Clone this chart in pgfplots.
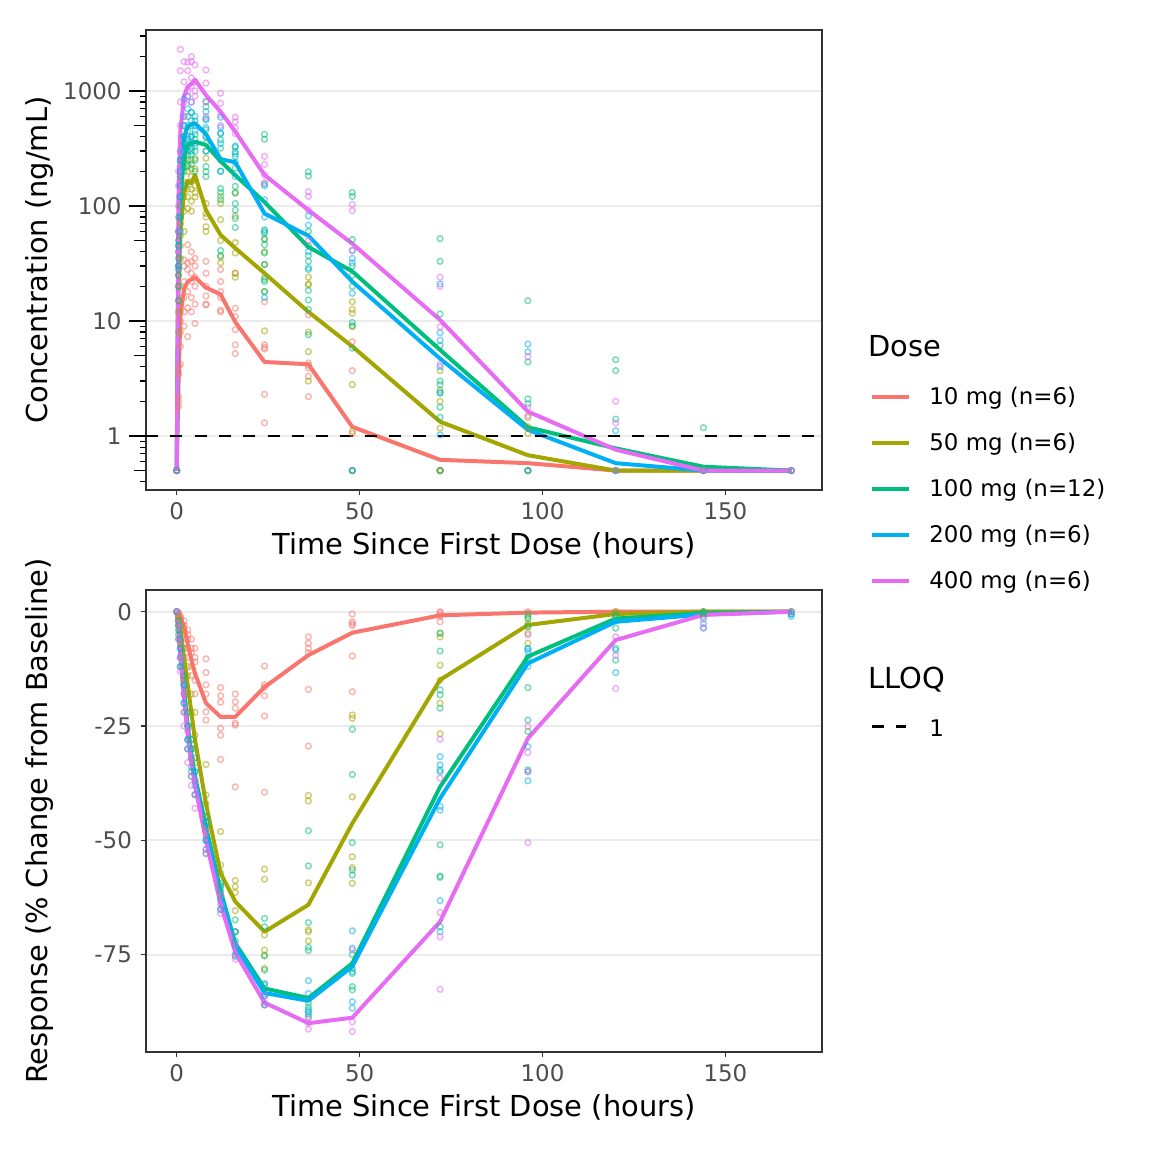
\documentclass[border=0pt]{standalone}
\usepackage{fontspec}
\setmainfont{DejaVu Sans}
\usepackage{pgfplots}
\pgfplotsset{compat=1.18}
\definecolor{cA}{HTML}{F8766D}
\definecolor{cB}{HTML}{A3A500}
\definecolor{cC}{HTML}{00BF7D}
\definecolor{cD}{HTML}{00B0F6}
\definecolor{cE}{HTML}{E76BF3}
\definecolor{gridc}{HTML}{EBEBEB}
\definecolor{txtgrey}{HTML}{4D4D4D}
\definecolor{bord}{HTML}{333333}
\pgfplotsset{
  base/.style={scale only axis, anchor=south west, xmin=-8.4, xmax=176.4,
    axis line style={draw=bord, line width=0.7pt},
    tick align=outside, tick pos=left,
    xtick={0,50,100,150}, xticklabels={0,50,100,150},
    tick label style={font=\fontsize{11.5}{13.8}\selectfont, text=txtgrey},
    major tick length=2.75pt, tick style={draw=bord, line width=0.6pt},
    ymajorgrids, major grid style={draw=gridc, line width=1pt},
    xlabel={Time Since First Dose (hours)},
    label style={font=\fontsize{14.5}{17.4}\selectfont, anchor=center}},
  pt/.style={only marks, mark=o, mark size=1.45pt, mark options={line width=0.7pt, draw opacity=0.55}},
  ln/.style={no marks, line width=2pt, line join=round},
}
\begin{document}
\begin{tikzpicture}
\begin{scope}[x=0.50188pt,y=0.50188pt]
\fill[white] (0,0) rectangle (1152,1152);
\path[use as bounding box] (0,0) rectangle (1152,1152);
\end{scope}

% ---------------- top panel ----------------
\begin{axis}[base, at={(73.27pt,332.245pt)}, width=339.27pt, height=230.86pt,
  ymode=log, ymin=0.339, ymax=3390, yminorticks=false,
  ytick={1,10,100,1000}, yticklabels={1,10,100,1000},
  yticklabel style={xshift=-6pt},
  ylabel={Concentration (ng/mL)},
  ylabel style={at={(axis description cs:-0.157,0.5)}},
  xlabel style={at={(axis description cs:0.5,-0.1196)}}]
\addplot[pt, cA] table[row sep=\\]{
0 0.5\\0 0.5\\0 0.5\\0.5 1.8\\0.5 2.0\\0.5 3.6\\0.5 4.0\\0.5 3.4\\0.5 2.2\\
1 10\\1 8\\1 4.2\\1 20\\1 12\\1 6\\2 22\\2 34\\2 12\\2 9\\2 16\\2 30\\
3 46\\3 28\\3 13\\3 7.3\\3 18\\3 32\\4 40\\4 22\\4 16\\4 12\\4 26\\4 33\\
5 35\\5 24\\5 14\\5 9.5\\5 30\\5 20\\8 33\\8 26\\8 16.5\\8 13.8\\8 14\\8 20\\
12 22\\12 18\\12 12.4\\12 28\\12 16\\12 12\\16 26\\16 12.9\\16 10.9\\16 8.4\\16 6.2\\16 5.2\\
24 14.7\\24 6.2\\24 5.7\\24 2.3\\24 1.3\\24 5.9\\36 11.3\\36 3.9\\36 3.3\\36 2.2\\36 4.1\\36 4.3\\
48 6.6\\48 3.7\\48 1.05\\48 0.5\\48 0.5\\72 0.5\\72 0.5\\96 0.5\\120 0.5\\144 0.5\\168 0.5\\
};
\addplot[pt, cB] table[row sep=\\]{
0 0.5\\0 0.5\\0.5 8\\0.5 15\\0.5 25\\0.5 30\\0.5 12\\0.5 20\\
1 35\\1 55\\1 80\\1 100\\1 45\\1 70\\2 90\\2 120\\2 160\\2 250\\2 140\\2 60\\
3 120\\3 200\\3 230\\3 160\\3 95\\3 140\\4 110\\4 180\\4 250\\4 140\\4 210\\4 90\\
5 130\\5 260\\5 210\\5 170\\5 150\\5 120\\8 260\\8 105\\8 86\\8 66\\8 80\\8 60\\
12 121\\12 105\\12 76\\12 36\\12 32\\12 50\\16 129\\16 82\\16 48\\16 39\\16 26\\16 24\\
24 51\\24 31\\24 18\\24 8.2\\24 24\\24 40\\36 24\\36 21\\36 20.6\\36 5.4\\36 3.0\\36 8\\
48 14.7\\48 12.6\\48 11.7\\48 8.9\\48 2.8\\48 1.1\\72 3.7\\72 2.5\\72 2.0\\72 1.17\\72 0.5\\72 0.5\\
96 1.45\\96 1.2\\96 1.05\\96 0.5\\120 0.5\\144 0.5\\168 0.5\\
};
\addplot[pt, cC] table[row sep=\\]{
0 0.5\\0 0.5\\0.5 20\\0.5 30\\0.5 40\\0.5 45\\0.5 60\\0.5 25\\0.5 35\\0.5 15\\0.5 50\\0.5 28\\
1 80\\1 120\\1 200\\1 150\\1 60\\1 250\\1 100\\1 180\\2 200\\2 300\\2 400\\2 250\\2 150\\2 350\\2 500\\2 220\\
3 250\\3 380\\3 450\\3 300\\3 220\\3 600\\3 330\\3 280\\4 280\\4 400\\4 500\\4 350\\4 230\\4 650\\4 320\\
5 300\\5 420\\5 380\\5 250\\5 550\\5 200\\5 330\\8 810\\8 730\\8 575\\8 460\\8 220\\8 198\\8 180\\8 300\\8 400\\8 350\\
12 425\\12 375\\12 318\\12 142\\12 131\\12 113\\12 41\\12 37\\12 250\\12 200\\
16 324\\16 296\\16 269\\16 213\\16 148\\16 131\\16 105\\16 92\\16 78\\16 65\\
24 420\\24 380\\24 155\\24 62\\24 58\\24 52\\24 46\\24 39\\24 31\\24 23\\24 22\\24 18\\
36 198\\36 182\\36 37\\36 33\\36 28\\36 18.4\\36 15.2\\36 12.6\\36 7.6\\36 45\\36 60\\
48 131\\48 121\\48 51\\48 20\\48 9.7\\48 9.1\\48 5.8\\48 30\\48 25\\48 0.5\\
72 52\\72 33\\72 11.5\\72 6.1\\72 3.0\\72 2.8\\72 2.35\\72 1.78\\72 1.45\\72 0.5\\
96 15\\96 4.4\\96 2.1\\96 1.9\\96 0.5\\120 4.6\\120 3.7\\120 1.4\\120 0.5\\144 1.18\\144 0.5\\168 0.5\\
};
\addplot[pt, cD] table[row sep=\\]{
0 0.5\\0.5 30\\0.5 45\\0.5 60\\0.5 80\\1 150\\1 250\\1 300\\1 120\\1 200\\
2 400\\2 600\\2 850\\2 300\\2 500\\3 500\\3 700\\3 900\\3 400\\3 350\\
4 550\\4 650\\4 400\\4 300\\4 800\\5 600\\5 450\\5 350\\5 500\\
8 660\\8 560\\8 480\\8 400\\8 300\\12 590\\12 480\\12 430\\12 350\\12 200\\
16 332\\16 284\\16 240\\16 180\\24 113\\24 16\\24 80\\24 150\\24 60\\
36 82\\36 68\\36 29\\36 40\\48 41\\48 35\\48 32\\48 17.4\\48 0.5\\
72 21\\72 7.9\\72 6.8\\72 2.4\\72 1.02\\72 4\\96 6.3\\96 5.4\\96 0.5\\120 1.11\\120 0.5\\144 0.5\\168 0.5\\
};
\addplot[pt, cE] table[row sep=\\]{
0 0.5\\0.5 60\\0.5 100\\0.5 150\\0.5 200\\0.5 40\\1 300\\1 500\\1 800\\1 1500\\1 2300\\
2 800\\2 1200\\2 1800\\2 600\\3 1000\\3 1500\\3 1780\\3 900\\
4 1100\\4 1990\\4 1800\\4 800\\4 1300\\5 1200\\5 1680\\5 1000\\5 900\\
8 1520\\8 1170\\8 800\\8 600\\12 955\\12 780\\12 620\\12 500\\16 590\\16 540\\16 475\\16 425\\
24 270\\24 230\\24 186\\24 160\\36 133\\36 121\\36 92\\36 50\\48 103\\48 91\\48 41\\
72 24\\72 8.9\\72 4.2\\72 20\\96 4.9\\96 1.78\\96 1.5\\120 2.0\\120 1.3\\120 0.5\\144 0.5\\168 0.5\\
};
\addplot[ln, cA] table[row sep=\\]{
0 0.5\\0.5 3\\1 11\\2 19\\3 22\\4 23\\5 24\\8 19.5\\12 17\\16 9.8\\24 4.4\\36 4.2\\48 1.2\\72 0.62\\96 0.58\\120 0.5\\144 0.5\\168 0.5\\
};
\addplot[ln, cB] table[row sep=\\]{
0 0.5\\0.5 20\\1 60\\2 130\\3 165\\4 158\\5 186\\8 92\\12 56\\16 43\\24 26\\36 12\\48 6.0\\72 1.33\\96 0.68\\120 0.5\\144 0.5\\168 0.5\\
};
\addplot[ln, cC] table[row sep=\\]{
0 0.5\\0.5 40\\1 120\\2 260\\3 339\\4 350\\5 362\\8 339\\12 245\\16 185\\24 108\\36 44\\48 27\\72 5.6\\96 1.19\\120 0.78\\144 0.54\\168 0.5\\
};
\addplot[ln, cD] table[row sep=\\]{
0 0.5\\0.5 60\\1 180\\2 400\\3 490\\4 510\\5 525\\8 420\\12 255\\16 240\\24 86\\36 55\\48 22\\72 4.7\\96 1.13\\120 0.58\\144 0.5\\168 0.5\\
};
\addplot[ln, cE] table[row sep=\\]{
0 0.5\\0.5 150\\1 450\\2 900\\3 1090\\4 1150\\5 1250\\8 920\\12 660\\16 443\\24 186\\36 92\\48 47\\72 10.2\\96 1.63\\120 0.76\\144 0.5\\168 0.5\\
};
\addplot[black, line width=1.4pt, dash pattern=on 6.1pt off 6.1pt] coordinates {(-8.4,1) (176.4,1)};
\end{axis}
% log ticks (long + short)
\begin{axis}[at={(73.27pt,332.245pt)}, anchor=south west, scale only axis, width=339.27pt, height=230.86pt,
  xmin=-8.4, xmax=176.4, ymode=log, ymin=0.339, ymax=3390, hide x axis,
  axis line style={draw=none}, tick align=outside, ytick pos=left,
  ytick={1,10,100,1000}, yticklabels={}, major tick length=8.7pt,
  minor ytick={0.4,0.6,0.7,0.8,0.9,2,3,4,6,7,8,9,20,30,40,60,70,80,90,200,300,400,600,700,800,900,2000,3000},
  minor tick length=3pt, tick style={draw=black, line width=0.6pt}]
\end{axis}
% log ticks (mid)
\begin{axis}[at={(73.27pt,332.245pt)}, anchor=south west, scale only axis, width=339.27pt, height=230.86pt,
  xmin=-8.4, xmax=176.4, ymode=log, ymin=0.339, ymax=3390, hide x axis, yminorticks=false,
  axis line style={draw=none}, tick align=outside, ytick pos=left,
  ytick={0.5,5,50,500}, yticklabels={}, major tick length=5.8pt,
  tick style={draw=black, line width=0.6pt}]
\end{axis}

% ---------------- bottom panel ----------------
\begin{axis}[base, at={(73.27pt,50.188pt)}, width=339.27pt, height=231.87pt,
  ymin=-96.3, ymax=4.75,
  ytick={-75,-50,-25,0}, yticklabels={-75,-50,-25,0},
  yticklabel style={xshift=-0.8pt},
  ylabel={Response (\% Change from Baseline)},
  ylabel style={at={(axis description cs:-0.157,0.5)}},
  xlabel style={at={(axis description cs:0.5,-0.119)}}]
\addplot[pt, cA] table[row sep=\\]{
0 0\\0 0\\0.5 -0.2\\0.5 -0.5\\0.5 -1\\1 -1\\1 -2\\1 -1.5\\1 -3\\2 -2\\2 -4\\2 -5\\2 -3\\2 -7\\
3 -4\\3 -6\\3 -8\\3 -10\\3 -5\\4 -6\\4 -9\\4 -12\\4 -14\\4 -8\\5 -8\\5 -11\\5 -15\\5 -18\\5 -10\\
8 -10.3\\8 -13.3\\8 -18.0\\8 -21.9\\8 -23.7\\8 -16\\12 -16.6\\12 -18.4\\12 -19.8\\12 -25.5\\12 -27.0\\12 -32.3\\
16 -18\\16 -19.7\\16 -21.1\\16 -24.4\\16 -24.8\\16 -38.3\\24 -11.9\\24 -16\\24 -18.4\\24 -22.8\\24 -39.5\\24 -16.5\\
36 -5.5\\36 -6.9\\36 -17.0\\36 -29.4\\36 -8\\36 -9\\48 -2.2\\48 -2.6\\48 -9.7\\48 -17.5\\48 -3\\48 -0.5\\
72 0\\72 -0.7\\72 -2.2\\72 -0.3\\72 -1\\96 0\\96 -0.3\\120 0\\144 0\\168 0\\
};
\addplot[pt, cB] table[row sep=\\]{
0 0\\0.5 -1\\0.5 -2\\0.5 -3\\1 -3\\1 -5\\1 -7\\1 -4\\2 -8\\2 -12\\2 -15\\2 -10\\3 -14\\3 -18\\3 -22\\3 -12\\
4 -18\\4 -22\\4 -28\\4 -25\\5 -22\\5 -27\\5 -33\\5 -30\\8 -33.4\\8 -40.1\\8 -45\\8 -48\\8 -42\\
12 -48.1\\12 -55.4\\12 -57.2\\12 -60\\12 -62\\16 -58.8\\16 -60.1\\16 -61.4\\16 -65.4\\16 -70\\
24 -56.3\\24 -58.5\\24 -70.7\\24 -74\\24 -75.1\\24 -78\\36 -40.2\\36 -41.4\\36 -59.3\\36 -69.6\\36 -70.0\\36 -72\\
48 -22.6\\48 -23.3\\48 -40.5\\48 -53.6\\48 -59.4\\48 -56\\72 -4.7\\72 -5.5\\72 -11.7\\72 -26.7\\72 -15\\72 -20\\
96 -1.1\\96 -2.6\\96 -4.7\\96 -6.9\\96 -3\\120 0\\120 -0.3\\120 -1\\144 0\\168 0\\
};
\addplot[pt, cC] table[row sep=\\]{
0 0\\0.5 -2\\0.5 -4\\0.5 -3\\0.5 -6\\1 -6\\1 -10\\1 -8\\1 -12\\2 -14\\2 -18\\2 -20\\2 -16\\
3 -22\\3 -25\\3 -28\\3 -30\\4 -28\\4 -32\\4 -35\\4 -30\\5 -32\\5 -37\\5 -40\\5 -35\\
8 -44.8\\8 -47\\8 -50\\8 -52.8\\8 -46\\12 -59.4\\12 -62\\12 -65.2\\12 -61\\16 -67.4\\16 -70\\16 -72\\16 -75.4\\16 -73\\
24 -67.1\\24 -68.9\\24 -75.3\\24 -78.4\\24 -81.6\\24 -84\\24 -86\\
36 -47.9\\36 -55.6\\36 -68\\36 -73.4\\36 -74.1\\36 -85.6\\36 -86.5\\36 -87.5\\36 -88.6\\
48 -25.7\\48 -35.6\\48 -50.5\\48 -56.5\\48 -57.6\\48 -79.1\\48 -82\\48 -82.7\\48 -75\\48 -78\\
72 -4.7\\72 -8.6\\72 -17.1\\72 -18.2\\72 -21.1\\72 -35\\72 -51\\72 -57.8\\72 -58.1\\72 -68.9\\
96 -0.7\\96 -1.5\\96 -3.3\\96 -16.6\\96 -23.7\\96 -26.2\\96 -34.6\\96 -8\\96 -10\\
120 -0.7\\120 -3.6\\120 -8.0\\120 -10.6\\120 -1\\144 -0.4\\144 -1.1\\144 0\\168 0\\168 -0.5\\
};
\addplot[pt, cD] table[row sep=\\]{
0 0\\0.5 -3\\0.5 -5\\1 -8\\1 -12\\1 -10\\2 -16\\2 -20\\2 -22\\3 -25\\3 -28\\3 -30\\4 -30\\4 -34\\4 -36\\5 -35\\5 -38\\5 -40\\
8 -46\\8 -50\\8 -52\\12 -60\\12 -63\\12 -65\\16 -70\\16 -73\\16 -75\\24 -81.3\\24 -83.5\\24 -84\\24 -86\\
36 -80.7\\36 -83.5\\36 -87.1\\36 -88\\48 -69.8\\48 -73.6\\48 -78.7\\48 -85.3\\48 -86.7\\
72 -31.7\\72 -33.5\\72 -34.6\\72 -42.6\\72 -43.4\\72 -63.2\\72 -70\\96 -8.2\\96 -8.7\\96 -12.0\\96 -29.5\\96 -37.0\\96 -35\\
120 -8.4\\120 -13.3\\120 -2\\144 -2.6\\144 -3.6\\168 -0.5\\168 -1\\
};
\addplot[pt, cE] table[row sep=\\]{
0 0\\0.5 -3\\0.5 -6\\1 -10\\1 -13\\2 -18\\2 -22\\2 -25\\3 -26\\3 -30\\3 -33\\4 -32\\4 -36\\4 -38\\5 -37\\5 -40\\5 -43\\
8 -48\\8 -52\\8 -53\\12 -62\\12 -64\\12 -66\\16 -73\\16 -75\\16 -76\\24 -85.5\\24 -86\\24 -84\\
36 -90\\36 -91.3\\36 -89\\48 -74\\48 -89.7\\48 -91.8\\72 -27.9\\72 -36.4\\72 -65.8\\72 -71.1\\72 -82.6\\
96 -5.1\\96 -25.1\\96 -30.8\\96 -35\\96 -50.5\\120 -5.5\\120 -9.5\\120 -16.8\\144 -1.7\\144 -3.5\\168 0\\
};
\addplot[ln, cA] table[row sep=\\]{
0 0\\0.5 -0.5\\1 -1.2\\2 -3.2\\3 -7\\4 -10.5\\5 -13.5\\8 -20\\12 -23\\16 -23\\24 -16.5\\36 -9.5\\48 -4.6\\72 -0.8\\96 -0.2\\120 0\\144 0\\168 0\\
};
\addplot[ln, cB] table[row sep=\\]{
0 0\\0.5 -1.5\\1 -4\\2 -10\\3 -16\\4 -22\\5 -28\\8 -42\\12 -57.2\\16 -63.4\\24 -70\\36 -64.1\\48 -46.3\\72 -14.9\\96 -2.9\\120 -0.5\\144 0\\168 0\\
};
\addplot[ln, cC] table[row sep=\\]{
0 0\\0.5 -3\\1 -8\\2 -17\\3 -25\\4 -31\\5 -36\\8 -47\\12 -61\\16 -72.5\\24 -82.4\\36 -84.5\\48 -76.9\\72 -38.3\\96 -9.8\\120 -1.5\\144 -0.3\\168 0\\
};
\addplot[ln, cD] table[row sep=\\]{
0 0\\0.5 -3.5\\1 -9\\2 -18\\3 -26\\4 -32\\5 -37\\8 -48\\12 -62\\16 -73\\24 -83.4\\36 -85.1\\48 -77.6\\72 -40.8\\96 -11.3\\120 -2.2\\144 -0.6\\168 0\\
};
\addplot[ln, cE] table[row sep=\\]{
0 0\\0.5 -4\\1 -10\\2 -19\\3 -27\\4 -33\\5 -38\\8 -50\\12 -64\\16 -74.5\\24 -85.5\\36 -90\\48 -88.8\\72 -67.8\\96 -27.7\\120 -6.2\\144 -0.7\\168 0\\
};
\end{axis}

% ---------------- legend ----------------
\begin{scope}[x=0.50188pt,y=0.50188pt, every node/.style={inner sep=0pt, anchor=base west, font=\fontsize{11.5}{13.8}\selectfont}]
\node[font=\fontsize{14.5}{17.4}\selectfont] at (868,795.3) {Dose};
\draw[cA, line width=2pt] (872,755.3) -- (909,755.3); \node at (929,747) {10 mg (n=6)};
\draw[cB, line width=2pt] (872,709.3) -- (909,709.3); \node at (929,701) {50 mg (n=6)};
\draw[cC, line width=2pt] (872,663.3) -- (909,663.3); \node at (929,655) {100 mg (n=12)};
\draw[cD, line width=2pt] (872,617.3) -- (909,617.3); \node at (929,609) {200 mg (n=6)};
\draw[cE, line width=2pt] (872,571.3) -- (909,571.3); \node at (929,563) {400 mg (n=6)};
\node[font=\fontsize{14.5}{17.4}\selectfont] at (868,463.7) {LLOQ};
\draw[black, line width=1.4pt, dash pattern=on 5.9pt off 5.9pt] (872,425.3) -- (906,425.3);
\node at (929,415.3) {1};
\end{scope}
\end{tikzpicture}
\end{document}
